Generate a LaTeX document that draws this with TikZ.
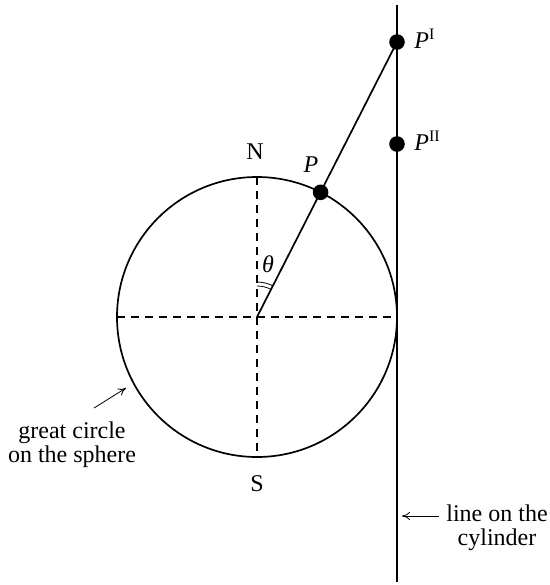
\documentclass[tikz,border=0pt]{standalone}
\usepackage{fontspec}
\setmainfont{Liberation Serif}
\usetikzlibrary{arrows.meta}
\begin{document}
\begin{tikzpicture}[x=0.5pt,y=-0.5pt,
  mainline/.style={line width=0.85pt},
  dashline/.style={line width=0.7pt, dash pattern=on 4pt off 3pt},
  dotnode/.style={circle,fill=black,inner sep=0pt,minimum size=7.8pt},
  lbl/.style={font=\fontsize{12}{12}\selectfont, inner sep=0pt},
  pointer/.style={line width=0.4pt, -{To[length=4pt,width=4pt]}},
  anglemark/.style={line width=0.4pt}]
\useasboundingbox (0,0) rectangle (550,585);
% sphere
\coordinate (O) at (257,317);
\coordinate (Wp) at (117,317);
\coordinate (Ep) at (397,317);
\coordinate (Np) at (257,177);
\coordinate (Sp) at (257,457);
\draw[mainline] (O) circle[radius=140];
\draw[dashline] (Wp) -- (Ep);
\draw[dashline] (Np) -- (Sp);
% cylinder line
\coordinate (Top) at (397,5);
\coordinate (Bot) at (397,582);
\draw[mainline] (Top) -- (Bot);
% points
\node[dotnode] (PI) at (397,42) {};
\node[dotnode] (PII) at (397,144) {};
\node[dotnode] (P) at (320.6,192.3) {};
\draw[mainline] (O) -- (PI.center);
% angle mark
\draw[anglemark] ([shift={(O)}]-90:31) arc[start angle=-90,end angle=-63,radius=31];
\draw[anglemark] ([shift={(O)}]-90:35) arc[start angle=-90,end angle=-63,radius=35];
% labels
\node[lbl] (Nl) at (255,152) {N};
\node[lbl] (Sl) at (257,484) {S};
\node[lbl] (Pl) at (311,165) {\itshape P};
\node[lbl] (th) at (268,264) {\itshape θ};
\node[lbl,anchor=base west] (PIl) at (414,48) {\itshape P\upshape\textsuperscript{I}};
\node[lbl,anchor=base west] (PIIl) at (414,150) {\itshape P\upshape\textsuperscript{II}};
\node[lbl,align=center] (gc) at (72,445) {great circle\\on the sphere};
\node[lbl,align=center] (lc) at (497,528) {line on the\\cylinder};
% pointers
\coordinate (gcA) at (94,408);
\coordinate (gcB) at (126,388);
\draw[pointer] (gcA) -- (gcB);
\coordinate (lcA) at (439,516);
\coordinate (lcB) at (402,516);
\draw[pointer] (lcA) -- (lcB);
\end{tikzpicture}
\end{document}
